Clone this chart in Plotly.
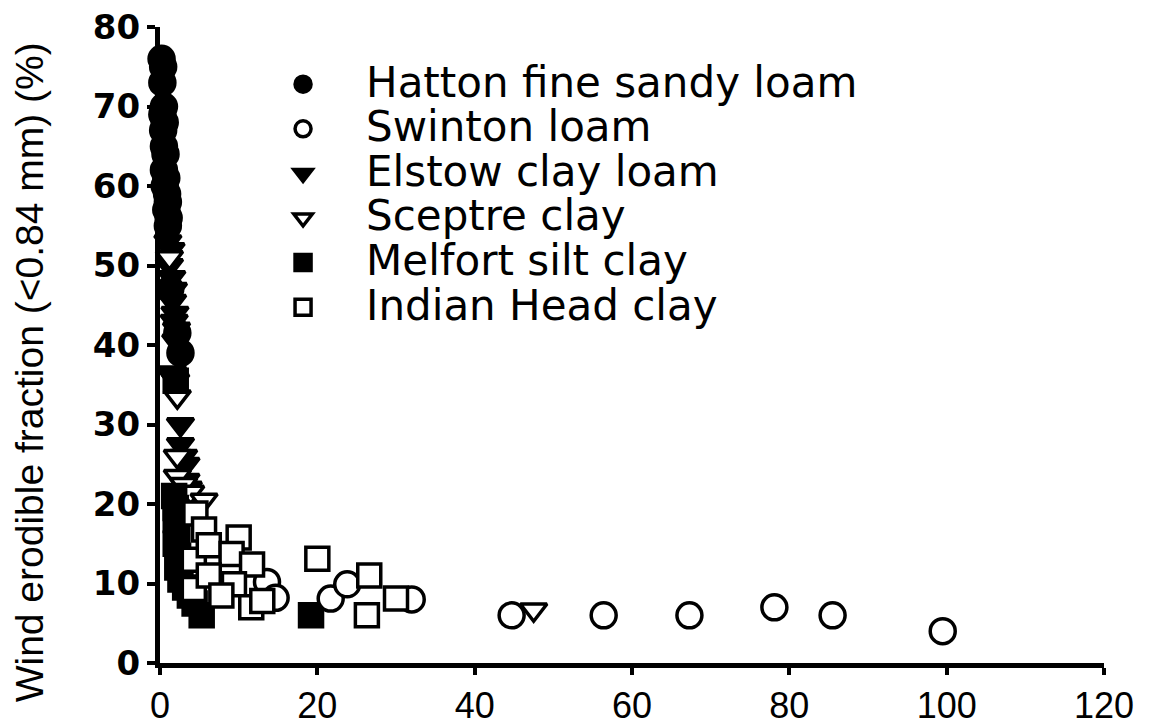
import plotly.graph_objects as go

# ---- data ----
series_names = ["Hatton fine sandy loam", "Swinton loam", "Elstow clay loam",
                "Sceptre clay", "Melfort silt clay", "Indian Head clay"]

hatton_x = [0.2, 0.4, 0.3, 0.5, 0.3, 0.6, 0.4, 0.5, 0.7, 0.5, 0.8, 0.6, 0.9, 1.0, 0.8, 1.1, 1.0, 1.3, 2.2, 2.6]
hatton_y = [76, 75, 73, 70, 69, 68, 67, 65, 64, 62, 61, 60, 59, 58, 57, 56, 55, 47, 41.5, 39]

swinton_x = [13.6, 14.7, 21.7, 23.8, 32.0, 44.7, 56.4, 67.3, 78.1, 85.5, 99.5]
swinton_y = [10.2, 8.2, 8.1, 9.9, 8.0, 6.0, 6.0, 6.0, 7.0, 6.0, 4.0]

elstow_x = [1.0, 1.4, 1.2, 1.5, 1.7, 1.6, 1.9, 1.8, 2.1, 2.0, 1.6, 2.0, 2.6, 2.6, 3.0, 3.3, 3.3, 3.6]
elstow_y = [53, 52, 50, 48.5, 47, 45.5, 44, 43, 42, 40.5, 36.5, 35.5, 30, 27.5, 26, 25, 23, 22]

sceptre_x = [1.2, 1.6, 2.2, 2.2, 2.2, 3.0, 3.9, 5.6, 47.5]
sceptre_y = [51, 36, 33.5, 26, 23.5, 22.5, 21.5, 20.5, 6.7]

melfort_x = [2.0, 1.8, 2.0, 2.0, 2.2, 2.0, 2.3, 2.2, 2.6, 3.2, 3.8, 4.4, 5.3, 19.2]
melfort_y = [35.5, 21, 19.5, 18, 16.5, 15, 13.5, 12, 10.5, 9.5, 8.5, 7.5, 6, 6]

indian_x = [4.3, 4.3, 4.5, 5.6, 6.2, 10.0, 9.1, 11.7, 6.2, 9.4, 7.8, 11.6, 13.0, 20.0, 26.6, 26.3, 30.0]
indian_y = [13.0, 9.3, 18.8, 16.8, 14.8, 15.8, 13.7, 12.4, 11.0, 9.9, 8.5, 7.0, 7.8, 13.1, 11.0, 6.0, 8.1]

x_ticks = [0, 20, 40, 60, 80, 100, 120]
y_ticks = [0, 10, 20, 30, 40, 50, 60, 70, 80]
y_title = "Wind erodible fraction (<0.84 mm) (%)"

# ---- styles ----
series = [
    # (x, y, name index, symbol, fill, size, legend rank) ; drawing order as in reference
    (hatton_x, hatton_y, 0, "circle", "black", 25, 1),
    (elstow_x, elstow_y, 2, "triangle-down", "black", 23, 3),
    (sceptre_x, sceptre_y, 3, "triangle-down", "white", 23, 4),
    (melfort_x, melfort_y, 4, "square", "black", 23, 5),
    (swinton_x, swinton_y, 1, "circle", "white", 25, 2),
    (indian_x, indian_y, 5, "square", "white", 23, 6),
]

fig = go.Figure()
for xs, ys, ni, sym, fill, size, rank in series:
    fig.add_trace(go.Scatter(
        x=xs, y=ys, mode="markers",
        name='<span style="font-size:42px">' + series_names[ni] + "</span>",
        legendrank=rank,
        cliponaxis=False,
        marker=dict(symbol=sym, size=size, color=fill,
                    line=dict(color="black", width=3.5)),
    ))

sans = "Liberation Sans, Arial, sans-serif"

fig.update_layout(
    width=1164, height=728,
    margin=dict(l=152, r=68, t=19, b=73),
    paper_bgcolor="white", plot_bgcolor="white",
    showlegend=True,
    legend=dict(x=0.0848, y=0.953, xanchor="left", yanchor="top",
                bgcolor="rgba(0,0,0,0)", itemwidth=116,
                font=dict(family="DejaVu Sans", size=32, color="black")),
    xaxis=dict(range=[0, 120], tickvals=x_ticks, showgrid=False, zeroline=False,
               automargin=False, ticklabeloverflow="allow",
               showline=True, linewidth=5, linecolor="black",
               ticks="outside", ticklen=7, tickwidth=4, tickcolor="black",
               tickfont=dict(family=sans, size=36, color="black")),
    yaxis=dict(range=[0, 80], tickvals=y_ticks, showgrid=False, zeroline=False,
               automargin=False, ticklabeloverflow="allow",
               showline=True, linewidth=5, linecolor="black",
               ticks="outside", ticklen=8, tickwidth=4, tickcolor="black",
               tickfont=dict(family="DejaVu Sans", size=34, color="black", weight="bold")),
    annotations=[dict(text=y_title, textangle=-90, xref="paper", yref="paper",
                      x=-0.1388, y=0.457, xanchor="center", yanchor="middle",
                      showarrow=False,
                      font=dict(family=sans, size=39, color="black"))],
)

fig.write_html("out.html")
